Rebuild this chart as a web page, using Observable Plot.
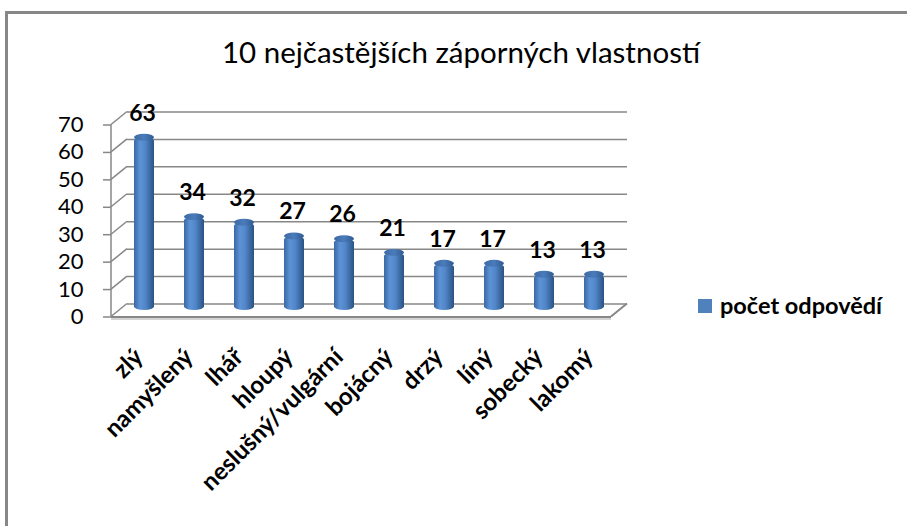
<!DOCTYPE html>
<html>
<head>
<meta charset="utf-8">
<script src="https://cdn.jsdelivr.net/npm/d3@7"></script>
<script src="https://cdn.jsdelivr.net/npm/@observablehq/plot@0.6"></script>
<style>
  html, body { margin: 0; padding: 0; background: #fff; overflow: hidden; }
  #wrap { position: relative; width: 907px; height: 526px; overflow: hidden; font-family: Lato, "Open Sans", sans-serif; }
  #border { position: absolute; left: 5px; top: 11px; width: 1200px; height: 1200px; border: 3px solid #878787; box-sizing: border-box; }
  #chart { position: absolute; left: 0; top: 0; }
  #title { position: absolute; left: 0; width: 922px; top: 37px; text-align: center; font-size: 29.5px; line-height: 29.5px; color: #000; }
  #swatch { position: absolute; left: 698px; top: 299px; width: 14px; height: 14px; background: #4F81BD; }
  #legend { position: absolute; left: 720px; top: 294px; font-size: 23.5px; line-height: 23.5px; font-weight: bold; color: #000; white-space: nowrap; }
</style>
</head>
<body>
<div id="wrap">
  <div id="border"></div>
  <div id="chart"></div>
  <div id="title">10 nejčastějších záporných vlastností</div>
  <div id="swatch"></div>
  <div id="legend">počet odpovědí</div>
</div>
<script>
const categories = ["zlý", "namyšlený", "lhář", "hloupý", "neslušný/vulgární", "bojácný", "drzý", "líný", "sobecký", "lakomý"];
const values = [63, 34, 32, 27, 26, 21, 17, 17, 13, 13];
const yTicks = [0, 10, 20, 30, 40, 50, 60, 70];
const seriesName = "počet odpovědí";

const data = categories.map((c, i) => ({name: c, value: values[i]}));

const W = 907, H = 526;
const ML = 119, MR = 288, MT = 118, MB = 216;
const DX = 8, DY = 6.5; // half-depth offsets for the faux 3D look

const plot = Plot.plot({
  width: W,
  height: H,
  marginLeft: ML,
  marginRight: MR,
  marginTop: MT,
  marginBottom: MB,
  style: {fontFamily: "Lato, 'Open Sans', sans-serif", background: "transparent", overflow: "visible"},
  x: {domain: categories, paddingInner: 0.6, paddingOuter: 0.3, axis: null},
  y: {domain: [0, 70], axis: null},
  marks: [
    // back wall gridlines
    Plot.ruleY(yTicks, {dx: DX, dy: -DY, stroke: "#878787", strokeWidth: 1.5}),
    // floor front edge + shading
    Plot.ruleY([0], {dx: -DX, dy: DY + 2, stroke: "#d4d4d4", strokeWidth: 2}),
    Plot.ruleY([0], {dx: -DX, dy: DY, stroke: "#878787", strokeWidth: 2}),
    // y axis (front)
    Plot.axisY(yTicks, {anchor: "left", label: null, dx: -DX, dy: DY, tickSize: 8, tickPadding: 20, fontSize: 22, stroke: "#878787", fill: "#000", strokeWidth: 1.5}),
    // cylinders
    Plot.barY(data, {x: "name", y: "value", fill: "url(#cyl)", rx: 10, ry: 3.5}),
    Plot.barY(data, {x: "name", y1: "value", y2: "value", insetTop: -3.5, insetBottom: -3.5, rx: 10, ry: 3.5, fill: "url(#cap)"}),
    // value labels
    Plot.text(data, {x: "name", y: "value", text: d => String(d.value), dy: -17, dx: -2, lineAnchor: "bottom", fontSize: 23, fontWeight: "bold", fill: "#000"}),
    // category labels
    Plot.text(data, {x: "name", text: "name", frameAnchor: "bottom", rotate: -45, textAnchor: "end", dy: 48, dx: 0, fontSize: 24, fontWeight: "bold", fill: "#000"})
  ]
});

// gradients for the cylinders
plot.insertAdjacentHTML("afterbegin", `
<defs>
  <linearGradient id="cyl" x1="0" x2="1" y1="0" y2="0">
    <stop offset="0" stop-color="#3a68a3"/>
    <stop offset="0.3" stop-color="#5d93d6"/>
    <stop offset="0.55" stop-color="#5288cb"/>
    <stop offset="1" stop-color="#2b5283"/>
  </linearGradient>
  <linearGradient id="cap" x1="0" x2="1" y1="0" y2="0">
    <stop offset="0" stop-color="#3d6aa4"/>
    <stop offset="0.5" stop-color="#4a7bbb"/>
    <stop offset="1" stop-color="#2f5a90"/>
  </linearGradient>
</defs>`);

// axis line and side diagonals of the 3D frame, placed via the plot's y scale
const y = plot.scale("y");
const svg = d3.select(plot);
const g = svg.insert("g", "g").attr("stroke", "#878787").attr("stroke-width", 1.5).attr("fill", "none");
const xFront = ML - DX, xBack = ML + DX;
g.append("line").attr("x1", xFront).attr("x2", xFront)
  .attr("y1", y.apply(70) + DY).attr("y2", y.apply(0) + DY);
for (const t of yTicks) {
  g.append("line").attr("x1", xFront).attr("y1", y.apply(t) + DY)
    .attr("x2", xBack).attr("y2", y.apply(t) - DY);
}
const xr = W - MR;
g.append("line").attr("x1", xr - DX).attr("y1", y.apply(0) + DY)
  .attr("x2", xr + DX).attr("y2", y.apply(0) - DY).attr("stroke-width", 2);

document.getElementById("chart").appendChild(plot);
</script>
</body>
</html>
